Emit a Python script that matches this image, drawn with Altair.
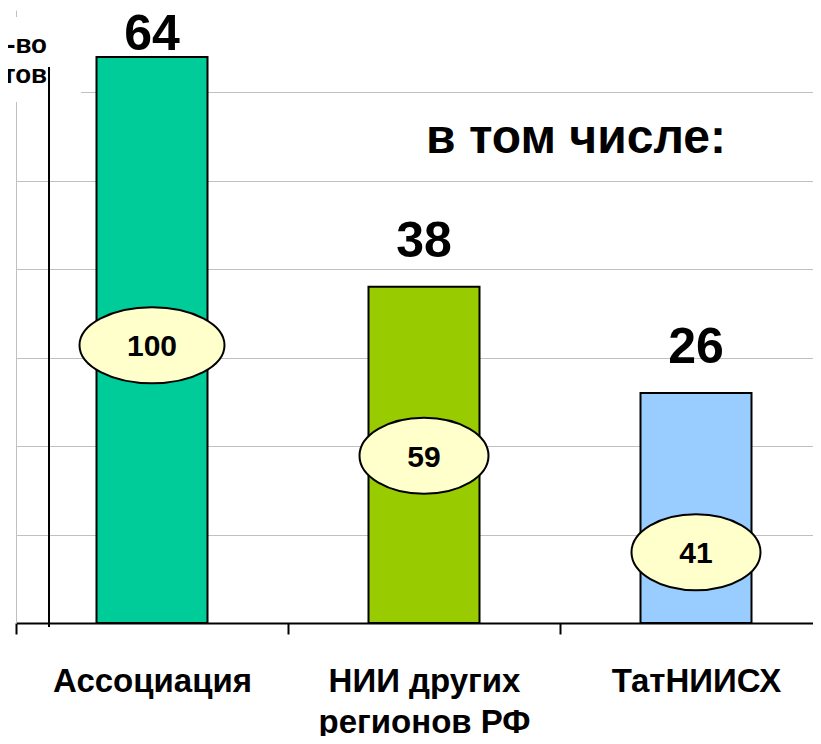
import altair as alt
import pandas as pd

# ---- data ----
categories = ["Ассоциация", "НИИ других|регионов РФ", "ТатНИИСХ"]
counts = [64, 38, 26]
shares = [100, 59, 41]
badge_levels = [31.4, 18.9, 8.0]          # where each oval sits, in data units
bar_colors = ["#00CC99", "#99CC00", "#99CCFF"]
y_title_lines = ["Кол-во", "сортов"]
subtitle = "в том числе:"
grid_values = [10, 20, 30, 40, 50, 60]

df = pd.DataFrame({"category": categories, "count": counts,
                   "share": shares, "badge": badge_levels})

FONT = "Liberation Sans, Arial, sans-serif"
NARROW = "Liberation Sans Narrow, Arial Narrow, Liberation Sans, sans-serif"

y_scale = alt.Scale(domain=[0, 69.3], nice=False, zero=True)
x_scale = alt.Scale(domain=categories, range=[0, 816], paddingInner=0, paddingOuter=0)

x_axis = alt.Axis(
    title=None, domainColor="black", domainWidth=2, tickColor="black",
    tickWidth=2, tickSize=11, tickBand="extent", labelAngle=0,
    labelExpr="split(datum.label, '|')", labelFont=FONT, labelFontSize=33,
    labelFontWeight="bold", labelColor="black", labelBaseline="alphabetic",
    labelLineHeight=41, labelPadding=57, labelLimit=600, labelOverlap=False,
    grid=False,
)
y_axis = alt.Axis(
    title=None, values=grid_values, grid=True, gridColor="#C0C0C0",
    gridWidth=1, ticks=False, labels=False, domain=True,
    domainColor="#C0C0C0", domainWidth=1,
)


def X():
    return alt.X("category:N", sort=categories, scale=x_scale, axis=x_axis)


def Y(field):
    return alt.Y(field, scale=y_scale, axis=y_axis)


base = alt.Chart(df)

bars = base.mark_bar(width=111, stroke="black", strokeWidth=2).encode(
    x=X(),
    y=Y("count:Q"),
    color=alt.Color("category:N", scale=alt.Scale(domain=categories, range=bar_colors), legend=None),
)

path_wide = "M -1 0 A 1 0.524 0 1 1 1 0 A 1 0.524 0 1 1 -1 0 Z"
path_std = "M -1 0 A 1 0.589 0 1 1 1 0 A 1 0.589 0 1 1 -1 0 Z"

badges = base.mark_point(filled=True, fill="#FFFFCC", stroke="black",
                         strokeWidth=2, opacity=1, fillOpacity=1).encode(
    x=X(),
    y=Y("badge:Q"),
    shape=alt.condition("datum.share >= 100", alt.value(path_wide), alt.value(path_std)),
    size=alt.condition("datum.share >= 100", alt.value(21025), alt.value(16641)),
)

share_text = base.mark_text(font=FONT, fontSize=30, fontWeight="bold",
                            baseline="alphabetic", dy=11, color="black").encode(
    x=X(),
    y=Y("badge:Q"),
    text="share:Q",
)

value_text = base.transform_calculate(
    label_y="min(datum.count + 3.4, 64.8)"
).mark_text(font=NARROW, fontSize=50, fontWeight="bold",
            baseline="alphabetic", color="black").encode(
    x=X(),
    y=Y("label_y:Q"),
    text="count:Q",
)

one = pd.DataFrame({"t": [subtitle]})

title_text = alt.Chart(one).mark_text(font=FONT, fontSize=48, fontWeight="bold",
                                      baseline="alphabetic", align="center",
                                      color="black").encode(
    x=alt.value(560), y=alt.value(143), text="t:N",
)

blank = alt.Chart(one).mark_rect(color="white").encode(
    x=alt.value(-8), x2=alt.value(65), y=alt.value(7), y2=alt.value(92),
)

y_title = alt.Chart(one).mark_text(font=FONT, fontSize=26, fontWeight="bold",
                                   baseline="alphabetic", align="right",
                                   lineHeight=30, color="black").encode(
    x=alt.value(31), y=alt.value(43), text=alt.value(y_title_lines),
)

rule = alt.Chart(one).mark_rule(color="black", strokeWidth=2).encode(
    x=alt.value(33), y=alt.value(57), y2=alt.value(617),
)

chart = alt.layer(
    bars, blank, badges, share_text, value_text, title_text, y_title, rule
).properties(
    width=797, height=613, autosize="none",
    padding={"left": 8, "top": 2, "right": 0, "bottom": 113},
    background="white",
).configure_view(stroke=None)

chart.save("out.html", embed_options={"renderer": "svg", "actions": False})
